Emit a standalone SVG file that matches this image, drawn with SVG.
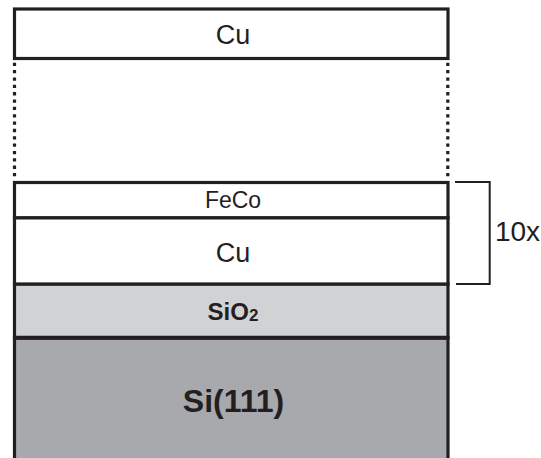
<svg xmlns="http://www.w3.org/2000/svg" width="541" height="458" viewBox="0 0 541 458">
<style>
.layer{stroke:#231f20;stroke-width:3.2}
.t{font-family:"Liberation Sans",Arial,sans-serif;fill:#231f20;text-anchor:middle}
.b{font-weight:bold}
.dot{stroke:#231f20;stroke-width:3.2;stroke-dasharray:3.3 4.05;fill:none}
.br{stroke:#231f20;stroke-width:2;fill:none}
</style>
<rect width="541" height="458" fill="#ffffff"/>
<g id="connectors">
<line class="dot" x1="14.5" y1="62.7" x2="14.5" y2="178"/>
<line class="dot" x1="447.8" y1="62.7" x2="447.8" y2="178"/>
</g>
<g id="cu-top">
<rect class="layer" x="14.5" y="9" width="433.5" height="49.5" fill="#ffffff"/>
<text class="t" x="233" y="44.3" font-size="27">Cu</text>
</g>
<g id="si111">
<rect x="14.5" y="337.7" width="433.5" height="125" fill="#a7a9ac" class="layer"/>
<text class="t b" x="233.5" y="411.7" font-size="32">Si(111)</text>
</g>
<g id="sio2">
<rect class="layer" x="14.5" y="284" width="433.5" height="53.7" fill="#d1d2d4"/>
<text class="t b" x="233" y="320" font-size="24">SiO<tspan style="font-size:17px" dy="0.5">2</tspan></text>
</g>
<g id="cu">
<rect class="layer" x="14.5" y="217.7" width="433.5" height="66.3" fill="#ffffff"/>
<text class="t" x="233" y="261.7" font-size="27">Cu</text>
</g>
<g id="feco">
<rect class="layer" x="14.5" y="182.5" width="433.5" height="35.2" fill="#ffffff"/>
<text class="t" x="233" y="207.7" font-size="23">FeCo</text>
</g>
<line x1="14.5" y1="337.7" x2="448" y2="337.7" stroke="#231f20" stroke-width="4"/>
<g id="bracket-10x">
<polyline class="br" points="455,182 489.7,182 489.7,284 456,284"/>
<text class="t" x="517.5" y="241" font-size="28">10x</text>
</g>
</svg>
